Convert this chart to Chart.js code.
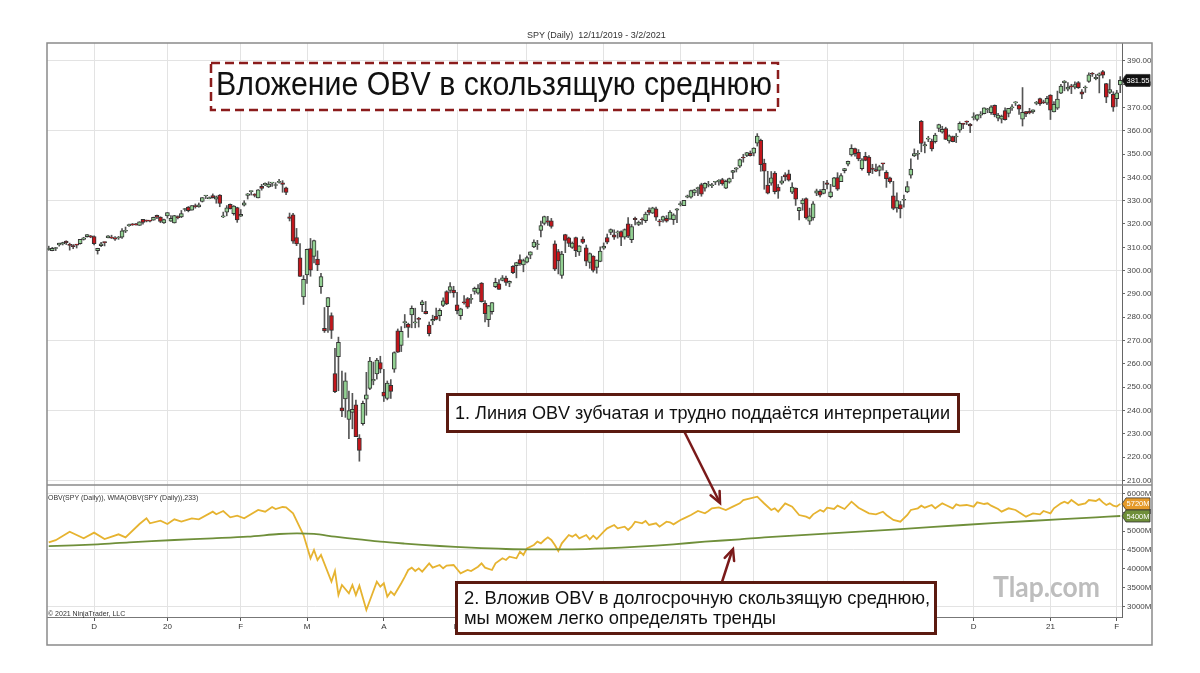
<!DOCTYPE html>
<html>
<head>
<meta charset="utf-8">
<title>SPY OBV + WMA</title>
<script src="https://cdn.jsdelivr.net/npm/chart.js@4.4.1/dist/chart.umd.min.js"></script>
<style>
  html, body { margin: 0; padding: 0; background: #fff; }
  #wrap { position: relative; width: 1200px; height: 673px; overflow: hidden;
          font-family: "Liberation Sans", Arial, sans-serif; color: #111; }
  #wrap canvas, #wrap svg { position: absolute; left: 0; top: 0; }
  .t { position: absolute; white-space: pre; }
  .box { position: absolute; box-sizing: border-box; background: #fff; overflow: hidden;
         border: 3px solid #5b1a10; font-size: 18.5px; white-space: nowrap; }
  .fit { display: inline-block; transform-origin: 0 50%; white-space: nowrap; }
</style>
</head>
<body>
<div id="wrap">
  <canvas id="chart" width="1200" height="673"></canvas>

  <svg width="1200" height="673">
    <rect x="211" y="63" width="567" height="47" fill="#fff" stroke="#8b1c1c" stroke-width="2.5" stroke-dasharray="9 5"/>
    <g stroke="#7a1a1a" stroke-width="2.5" fill="none" stroke-linecap="round">
      <line x1="685" y1="433" x2="719" y2="501"/>
      <polyline points="710.6,495.3 720,503 719.6,490.9"/>
      <line x1="722" y1="582" x2="732" y2="551"/>
      <polyline points="724.7,557.8 733,549 734.1,561"/>
    </g>
  </svg>

  <div class="t" style="left:527px;top:29px;font-size:9px;line-height:12px;color:#333;">SPY (Daily)  12/11/2019 - 3/2/2021</div>
  <div class="t" style="left:216px;top:60px;font-size:32.5px;line-height:48px;"><span class="fit" data-w="556">Вложение OBV в скользящую среднюю</span></div>

  <div class="box" style="left:446px;top:393px;width:514px;height:40px;line-height:34px;padding-left:6px;"><span class="fit" data-w="495">1. Линия OBV зубчатая и трудно поддаётся интерпретации</span></div>
  <div class="box" style="left:455px;top:581px;width:482px;height:54px;line-height:19.5px;padding:4px 0 0 6px;"><span class="fit" data-w="466">2. Вложив OBV в долгосрочную скользящую среднюю,<br>мы можем легко определять тренды</span></div>

  <div class="t" style="left:48px;top:493px;font-size:7px;line-height:10px;color:#333;">OBV(SPY (Daily)), WMA(OBV(SPY (Daily)),233)</div>
  <div class="t" style="left:48px;top:609px;font-size:7px;line-height:10px;color:#333;">© 2021 NinjaTrader, LLC</div>
  <div class="t" style="left:993px;top:569px;font-family:Lato, sans-serif;font-weight:700;font-size:28px;line-height:34px;color:#bdbdbd;"><span class="fit" data-w="107">Tlap.com</span></div>
</div>

<script>
// SPY daily, 12 Nov 2019 .. 2 Feb 2021 (one row per month)
const open = [
  309.0,308.6,309.5,311.0,311.5,312.7,311.3,310.8,311.1,311.6,313.4,314.6,314.9,
  314.6,308.6,310.7,312.2,314.1,314.4,313.8,314.0,314.4,316.9,319.3,319.9,320.0,319.4,322.0,321.6,321.5,321.6,323.7,322.95,320.5,
  323.5,321.2,320.5,323.0,323.0,326.2,327.3,325.9,327.6,327.3,329.7,332.0,330.9,332.2,330.6,332.4,323.0,325.1,328.4,324.4,327.0,
  323.4,328.1,332.3,333.9,332.8,331.2,336.2,336.8,335.9,337.5,336.5,337.8,337.7,335.5,323.1,323.9,314.2,305.5,288.7,
  298.2,309.5,306.1,304.98,293.1,275.3,284.6,280.7,255.9,263.1,241.2,245.0,236.25,239.25,242.5,228.2,234.4,244.9,249.5,252.75,255.7,260.6,
  247.98,245.2,250.8,257.8,274.2,267.96,277.6,277.1,280.98,277.6,279.15,285.4,282.6,276.7,278.4,280.5,280.7,285.1,291.0,291.5,291.7,
  285.3,280.7,286.6,288.0,287.7,291.1,290.3,294.7,286.1,278.95,282.4,293.1,294.35,295.8,296.8,294.6,301.9,302.1,304.7,302.5,
  303.6,306.6,310.2,311.1,317.2,320.2,321.4,321.4,311.5,308.2,298.0,315.5,314.1,310.0,314.2,307.99,313.5,309.8,303.5,306.2,301.4,303.99,
  309.6,314.2,316.4,315.4,316.2,316.8,314.3,320.1,313.3,322.4,319.8,322.0,321.4,326.0,324.6,326.5,320.95,321.6,322.4,322.1,321.9,325.9,
  328.3,327.9,331.5,331.5,333.3,335.1,336.85,335.4,336.6,336.4,337.9,338.3,339.05,335.4,337.9,342.1,343.5,344.8,348.5,349.4,350.35,
  350.35,354.7,355.9,346.1,336.7,337.55,341.8,335.8,337.5,341.1,341.5,333.6,335.4,325.7,328.6,330.9,321.2,322.6,333.2,333.97,333.1,
  337.7,331.7,336.1,339.9,338.1,342.85,345.6,349.6,352.3,350.75,343.7,348.96,348.7,344.0,343.3,342.96,345.9,342.1,339.8,332.1,326.9,328.3,
  330.2,333.7,340.9,349.2,349.9,363.97,353.5,356.4,355.6,355.3,360.98,359.4,360.9,355.6,357.5,357.3,360.2,363.1,363.8,362.8,
  365.6,364.8,366.7,367.3,369.0,367.7,370.9,365.4,364.9,368.6,367.4,369.8,371.9,370.97,364.97,368.2,368.3,368.1,371.7,373.8,372.3,371.8,
  375.3,368.1,369.7,376.1,380.6,377.85,378.9,378.7,380.6,376.7,378.3,381.1,384.5,382.3,383.7,385.4,380.2,376.4,375.6,
  373.7,379.6
];
const high = [
  310.5,310.0,310.0,311.8,312.2,312.8,311.8,311.2,311.3,313.4,314.3,315.5,315.1,
  314.9,309.6,312.1,312.3,315.0,315.2,314.6,314.7,318.0,318.7,320.0,320.2,320.3,321.0,322.0,321.7,321.5,322.95,323.8,323.1,322.1,
  324.9,323.6,323.7,323.5,325.8,326.7,327.5,327.95,328.6,329.0,331.3,332.2,331.6,332.9,332.0,332.6,325.1,327.9,328.6,327.9,327.2,
  326.2,330.0,333.1,334.2,333.0,334.75,337.0,337.6,338.1,337.7,337.7,339.1,338.6,335.8,324.7,324.6,318.1,311.6,297.9,
  309.2,313.8,313.1,308.5,298.8,284.2,288.5,281.9,266.7,271.5,256.9,256.2,248.4,247.4,244.5,229.7,244.1,256.4,262.8,260.8,262.4,263.3,
  257.7,252.7,253.3,265.2,275.0,276.0,281.2,277.5,284.9,283.9,280.0,287.3,286.8,278.0,280.9,283.9,283.7,288.3,291.4,294.9,293.3,
  290.7,283.9,289.3,288.5,289.8,292.95,294.0,294.9,287.2,285.1,286.3,296.75,296.2,297.9,297.7,295.6,302.2,303.6,306.8,304.96,
  306.2,308.1,313.2,313.0,321.3,323.4,323.3,322.4,312.8,309.1,308.3,315.6,314.4,312.3,314.4,310.7,314.5,311.0,307.6,306.4,304.6,310.2,
  311.9,315.7,317.9,317.5,317.1,317.1,317.9,322.7,319.8,323.0,321.3,322.6,325.1,326.9,327.2,327.2,321.99,323.4,323.6,325.7,324.4,326.6,
  329.6,330.1,332.4,334.5,334.9,335.8,337.5,337.7,338.3,337.4,338.3,339.0,339.6,338.8,339.7,343.0,344.2,347.9,349.9,350.7,351.3,
  352.7,358.75,356.4,347.8,342.6,342.5,342.5,336.97,340.4,342.0,343.1,337.7,335.5,327.1,330.9,331.2,326.8,329.6,334.96,334.8,338.3,
  338.7,337.0,339.96,342.0,341.6,343.85,347.0,354.0,352.5,351.9,348.0,350.75,349.3,345.6,345.7,345.2,345.99,342.9,340.1,338.3,333.4,329.7,
  332.4,338.2,347.9,352.2,351.5,364.4,355.2,357.6,356.4,358.9,362.8,361.9,361.5,358.2,357.7,358.8,363.8,363.2,364.2,363.1,
  367.7,366.96,368.2,369.85,369.6,370.8,371.05,367.5,366.7,369.8,369.6,371.2,372.5,371.15,378.5,368.3,369.6,369.0,372.6,374.0,373.1,374.7,
  375.45,372.5,376.98,379.9,381.5,380.6,379.9,380.9,381.1,377.6,379.2,384.8,384.95,384.1,384.8,385.85,380.3,381.9,376.7,
  377.3,383.2
];
const low = [
  308.7,308.5,308.6,310.5,311.0,311.2,308.8,309.4,309.7,311.4,313.1,314.3,314.1,
  311.0,307.1,310.3,310.6,314.0,313.8,313.0,313.4,313.8,316.3,319.0,319.4,319.5,319.4,319.9,320.9,320.9,321.6,322.3,320.55,320.2,
  322.5,321.1,320.4,322.2,322.7,325.5,325.2,325.9,326.8,327.2,329.4,330.9,330.8,331.1,328.9,327.4,322.7,323.5,326.4,323.8,320.7,
  323.2,327.7,330.7,332.4,331.6,331.2,334.5,336.4,335.6,336.1,335.2,337.5,333.6,332.6,321.3,311.7,310.7,297.5,285.5,
  294.5,297.6,303.3,300.0,290.2,273.5,273.5,270.9,247.7,248.5,237.4,237.1,228.0,232.2,228.8,218.3,233.8,238.0,249.0,251.05,253.5,256.2,
  243.9,244.6,245.2,256.4,264.9,265.3,275.5,271.4,275.5,275.5,275.8,282.4,281.4,272.0,276.8,278.9,278.5,284.6,285.4,290.4,288.6,
  281.5,279.1,285.6,283.8,286.0,289.9,289.9,286.5,278.0,276.0,281.3,292.7,291.95,295.6,293.7,293.1,298.7,296.9,302.2,299.5,
  303.3,305.1,309.9,309.1,314.5,319.6,319.4,318.2,300.0,298.6,296.7,307.7,310.3,309.5,306.0,306.5,311.6,302.1,301.0,299.4,298.9,303.8,
  309.1,311.5,315.4,313.4,313.9,310.7,313.5,314.1,312.0,319.6,319.3,319.8,320.6,323.9,324.5,321.5,319.2,320.8,320.8,322.0,319.8,320.6,
  327.7,327.9,331.2,331.1,332.2,332.1,331.9,334.1,335.9,335.6,336.85,336.6,336.6,335.2,337.5,339.45,342.3,344.2,346.5,348.9,349.1,
  349.2,353.4,342.6,334.9,332.9,336.6,332.9,331.0,337.0,338.5,338.4,332.99,327.97,321.7,325.9,322.1,319.8,321.6,332.15,331.6,332.9,
  335.0,331.2,336.0,334.4,338.1,341.9,344.9,349.1,349.1,347.1,343.1,347.1,340.9,341.6,342.4,340.6,343.1,335.7,337.5,326.1,325.1,322.6,
  327.2,333.4,339.6,348.9,347.7,350.95,350.5,355.3,351.3,354.7,359.6,358.95,356.2,354.7,355.2,354.9,359.3,360.9,362.6,359.2,
  364.6,364.2,365.5,367.2,367.7,367.0,365.95,364.2,363.3,364.5,365.9,368.7,370.8,367.0,362.0,366.0,367.2,367.45,371.1,370.8,371.6,371.2,
  364.8,368.05,369.1,375.9,377.1,377.1,375.9,377.9,378.1,373.7,376.4,380.7,383.25,381.8,376.2,382.6,372.0,375.9,368.3,
  370.4,376.3
];
const close = [
  309.55,309.54,309.8,311.79,312.0,311.9,310.8,310.3,310.96,313.4,314.1,315.5,314.3,
  311.6,309.6,311.5,312.0,314.9,313.9,313.5,314.4,317.1,317.3,319.5,319.6,319.6,320.9,320.7,321.2,321.2,322.9,322.9,321.1,321.9,
  324.9,322.4,323.6,322.7,324.45,326.65,325.7,327.95,327.45,328.2,331.3,332.0,331.3,331.3,331.7,328.8,323.5,326.9,326.6,327.7,321.7,
  324.1,329.1,332.9,333.9,332.2,334.7,335.3,337.4,337.1,337.6,336.7,338.3,336.95,333.5,322.4,312.65,311.5,297.5,296.3,
  309.1,300.2,312.9,302.5,297.5,274.2,288.4,274.4,248.1,269.3,239.9,252.8,240.0,240.5,228.8,222.95,243.15,246.8,261.2,253.4,261.65,257.75,
  246.15,251.8,248.2,264.9,265.1,274.0,278.2,275.7,283.8,277.8,279.1,286.6,281.6,273.0,279.1,279.1,282.97,287.05,285.7,293.2,290.5,
  282.8,283.6,286.2,284.3,287.7,292.4,292.5,286.7,281.6,285.0,286.3,295.0,292.0,296.9,294.9,295.4,299.1,303.5,303.0,304.3,
  305.55,308.1,312.2,311.4,319.3,323.2,320.8,319.0,300.6,304.2,307.05,313.0,311.7,311.8,308.6,310.6,312.05,304.1,307.35,300.05,304.5,308.4,
  310.5,312.2,317.6,314.4,316.2,314.4,317.6,314.8,318.9,321.85,320.8,321.7,324.3,325.0,326.9,322.96,320.9,323.2,321.2,325.1,323.96,326.5,
  328.8,330.1,332.1,334.3,334.6,335.6,332.8,337.4,336.8,336.8,337.9,338.6,337.2,338.3,339.5,342.9,344.1,347.6,348.3,350.6,349.3,
  352.6,357.7,345.4,342.6,333.2,339.8,333.9,334.1,338.5,340.2,338.8,335.8,330.65,327.0,330.3,322.6,323.5,328.7,334.2,332.4,334.9,
  337.0,333.8,339.8,334.9,340.8,343.8,346.85,352.4,350.1,347.9,347.5,347.3,342.0,343.4,342.7,344.6,345.8,339.4,338.2,326.7,330.0,326.5,
  330.2,336.0,343.5,350.2,350.2,354.6,354.0,356.7,352.2,358.1,362.6,360.6,356.3,357.8,355.3,357.5,363.2,362.7,363.7,362.1,
  366.0,366.8,366.7,369.85,369.1,370.2,366.85,366.7,366.3,364.7,369.6,370.2,372.2,369.2,367.9,367.2,367.6,369.0,372.2,371.5,372.0,373.9,
  368.8,371.3,373.55,379.1,381.3,378.7,378.8,379.8,378.5,375.7,378.65,383.9,384.2,382.9,384.4,383.8,374.4,377.6,370.1,
  376.2,381.55
];

// OBV (millions): trading-day index -> value
const obvDay = [0,2,6,10,13,16,20,22,26,28,29,32,34,36,38,41,43,47,48,50,52,54,56,60,62,64,65,67,68,70,
  73,75,76,77,78,81,82,83,84,86,87,88,89,91,94,95,96,97,98,99,101,102,103,104,105,106,107,109,110,112,
  113,114,116,118,120,121,123,124,125,127,128,130,131,132,134,135,136,137,139,140,141,142,143,144,145,146,147,149,150,151,
  152,154,155,156,157,159,160,162,163,165,166,167,168,170,171,172,174,175,177,178,179,181,182,184,186,188,189,190,192,194,
  196,198,199,201,203,205,207,208,209,211,213,215,217,218,219,221,222,223,225,226,228,230,232,235,237,239,240,242,244,246,
  247,249,250,251,253,254,256,257,259,260,261,263,265,266,268,269,270,272,273,275,277,278,280,281,282,284,285,287,288,290,
  291,292,293,295,297,298,300,301,302,303,304,305,306,307];
const obvVal = [4700,4760,4985,4809,4959,4791,4915,4835,5188,5338,5206,5276,5188,5312,5250,5338,5312,5514,5444,5532,5364,5408,5338,5559,5514,5638,5585,5638,5629,5470,
  4897,4280,4500,4236,4368,3662,3944,3309,3574,3354,3574,3309,3556,2913,3662,3530,3618,3265,3398,3309,3620,3790,3971,4033,3944,4015,3927,4147,4033,4103,
  4015,4086,4103,3883,3971,3944,4059,4147,4033,3971,4147,4280,4236,4324,4280,4456,4368,4544,4632,4721,4677,4765,4835,4765,4632,4474,4677,4897,4853,4915,
  4809,4897,4782,4879,4791,4985,5073,5162,5073,5117,5029,5117,5250,5206,5267,5162,5206,5117,5250,5232,5179,5294,5338,5426,5532,5470,5532,5603,5629,5559,
  5647,5735,5823,5867,5911,5730,5559,5603,5514,5735,5647,5426,5382,5338,5444,5559,5514,5620,5585,5673,5585,5779,5620,5470,5444,5514,5426,5294,5250,5426,
  5559,5603,5673,5620,5691,5603,5735,5691,5603,5709,5673,5691,5647,5761,5717,5735,5673,5585,5514,5603,5559,5497,5382,5426,5470,5444,5532,5470,5603,5735,
  5779,5735,5823,5691,5735,5823,5797,5850,5760,5691,5735,5673,5650,5720];

// WMA(OBV, 233), same units
const wmaDay = [0,14,23,36,47,57,66,71,76,82,89,95,102,112,121,131,140,150,159,169,179,188,198,205,224,243,262,281,300,307];
const wmaVal = [4600,4650,4703,4765,4809,4853,4923,4941,4925,4853,4782,4721,4670,4606,4562,4527,4515,4518,4544,4588,4650,4721,4782,4835,4941,5047,5162,5267,5364,5400];

// axis ticks
const priceTicks = [210,220,230,240,250,260,270,280,290,300,310,320,330,340,350,360,370,380,390];
const priceGrid = [210,240,270,300,330,360,390];
const obvTicks = [3000,3500,4000,4500,5000,5500,6000];
const obvGrid = [3000,4500,6000];
const priceRange = [208.1, 397.6];
const obvRange = [2727, 6220];

const holidays = ['2019-11-28','2019-12-25','2020-01-01','2020-01-20','2020-02-17','2020-04-10','2020-05-25',
  '2020-07-03','2020-09-07','2020-11-26','2020-12-25','2021-01-01','2021-01-18'];

const FONT = '"Liberation Sans", Arial, sans-serif';

// squeeze the annotation texts to the width they take in the picture
document.querySelectorAll('.fit').forEach(el => {
  const w = el.getBoundingClientRect().width;
  el.style.transform = 'scaleX(' + (el.dataset.w / w) + ')';
});

// trading days for the category axis
const dates = [];
for (let t = Date.UTC(2019, 10, 12); t <= Date.UTC(2021, 1, 2); t += 86400000) {
  const d = new Date(t), s = d.toISOString().slice(0, 10), wd = d.getUTCDay();
  if (wd !== 0 && wd !== 6 && !holidays.includes(s)) dates.push(s);
}

// first trading day of each month gets a label (year for January)
const MONTHS = 'JFMAMJJASOND';
const monthTick = dates.map((s, i) => {
  if (i === 0 || s.slice(5, 7) === dates[i - 1].slice(5, 7)) return '';
  const m = +s.slice(5, 7) - 1;
  return m === 0 ? s.slice(2, 4) : MONTHS[m];
});

const isUp = close.map((c, i) => c >= open[i]);

function tag(ctx, x, y, text, bg, fg) {
  ctx.beginPath();
  ctx.moveTo(x, y);
  ctx.lineTo(x + 4, y - 6);
  ctx.lineTo(x + 28, y - 6);
  ctx.lineTo(x + 28, y + 6);
  ctx.lineTo(x + 4, y + 6);
  ctx.closePath();
  ctx.fillStyle = bg;
  ctx.fill();
  ctx.strokeStyle = '#333';
  ctx.lineWidth = 0.8;
  ctx.stroke();
  ctx.fillStyle = fg;
  ctx.font = '7.5px ' + FONT;
  ctx.textBaseline = 'middle';
  ctx.textAlign = 'center';
  ctx.fillText(text, x + 16, y + 0.5);
}

const framePlugin = {
  id: 'frame',
  afterDraw(chart) {
    const ctx = chart.ctx, a = chart.chartArea;
    const y = chart.scales.y, y2 = chart.scales.y2, x = chart.scales.x;
    ctx.save();
    const lastClose = close[close.length - 1];
    const lastObv = obvVal[obvVal.length - 1];
    const lastWma = wmaVal[wmaVal.length - 1];
    tag(ctx, a.right, y.getPixelForValue(lastClose), lastClose.toFixed(2), '#111', '#fff');
    tag(ctx, a.right, y2.getPixelForValue(lastObv), lastObv + 'M', '#e59a2a', '#fff');
    tag(ctx, a.right, y2.getPixelForValue(lastWma), lastWma + 'M', '#6f8f3a', '#fff');

    ctx.strokeStyle = '#8a8a8a';
    ctx.lineWidth = 1.5;
    ctx.strokeRect(a.left, a.top, y.right - a.left, x.bottom - a.top);
    ctx.beginPath();
    ctx.moveTo(a.left, y2.top);
    ctx.lineTo(y.right, y2.top);
    ctx.stroke();
    ctx.restore();
  }
};

const axisFont = { family: FONT, size: 8 };

new Chart(document.getElementById('chart'), {
  type: 'bar',
  data: {
    labels: dates,
    datasets: [
      {
        label: 'body',
        data: open.map((o, i) => [o, close[i]]),
        yAxisID: 'y',
        grouped: false,
        barThickness: 4,
        minBarLength: 1,
        borderSkipped: false,
        borderWidth: 1,
        borderColor: '#333',
        backgroundColor: isUp.map(u => u ? '#93d193' : '#c3161c'),
        order: 1
      },
      {
        label: 'wick',
        data: low.map((l, i) => [l, high[i]]),
        yAxisID: 'y',
        grouped: false,
        barThickness: 1,
        backgroundColor: '#555',
        order: 2
      },
      {
        type: 'line',
        label: 'WMA',
        data: wmaDay.map((d, k) => ({ x: dates[d], y: wmaVal[k] })),
        yAxisID: 'y2',
        borderColor: '#6f8f3a',
        borderWidth: 1.8,
        pointRadius: 0,
        tension: 0.3,
        order: 0
      },
      {
        type: 'line',
        label: 'OBV',
        data: obvDay.map((d, k) => ({ x: dates[d], y: obvVal[k] })),
        yAxisID: 'y2',
        borderColor: '#e6b330',
        borderWidth: 1.8,
        pointRadius: 0,
        tension: 0,
        order: 0
      }
    ]
  },
  options: {
    responsive: false,
    animation: false,
    devicePixelRatio: 1,
    layout: { padding: { left: 47, right: 48, top: 43, bottom: 28 } },
    plugins: {
      legend: { display: false },
      tooltip: { enabled: false }
    },
    scales: {
      x: {
        type: 'category',
        offset: true,
        grid: {
          offset: false,
          color: c => monthTick[c.index] ? '#e3e3e3' : 'rgba(0,0,0,0)',
          tickColor: c => monthTick[c.index] ? '#555' : 'rgba(0,0,0,0)',
          tickLength: 4
        },
        border: { display: true, color: '#777' },
        ticks: {
          autoSkip: false,
          maxRotation: 0,
          minRotation: 0,
          padding: 1,
          color: '#333',
          font: axisFont,
          callback: (v, i) => monthTick[i]
        },
        afterFit: s => { s.height = 28; }
      },
      y: {
        position: 'right',
        stack: 'panes',
        stackWeight: 442,
        min: priceRange[0],
        max: priceRange[1],
        afterBuildTicks: s => { s.ticks = priceTicks.map(v => ({ value: v })); },
        grid: {
          color: c => c.tick && priceGrid.includes(c.tick.value) ? '#e3e3e3' : 'rgba(0,0,0,0)',
          tickColor: '#666',
          tickLength: 3
        },
        border: { display: true, color: '#666' },
        ticks: {
          autoSkip: false,
          padding: 2,
          color: '#444',
          font: axisFont,
          callback: v => v.toFixed(2)
        },
        afterFit: s => { s.width = 30; }
      },
      y2: {
        position: 'right',
        stack: 'panes',
        stackWeight: 132,
        min: obvRange[0],
        max: obvRange[1],
        afterBuildTicks: s => { s.ticks = obvTicks.map(v => ({ value: v })); },
        grid: {
          color: c => c.tick && obvGrid.includes(c.tick.value) ? '#e3e3e3' : 'rgba(0,0,0,0)',
          tickColor: '#666',
          tickLength: 3
        },
        border: { display: true, color: '#666' },
        ticks: {
          autoSkip: false,
          padding: 2,
          color: '#444',
          font: axisFont,
          callback: v => v + 'M'
        },
        afterFit: s => { s.width = 30; }
      }
    }
  },
  plugins: [framePlugin]
});
</script>
</body>
</html>
